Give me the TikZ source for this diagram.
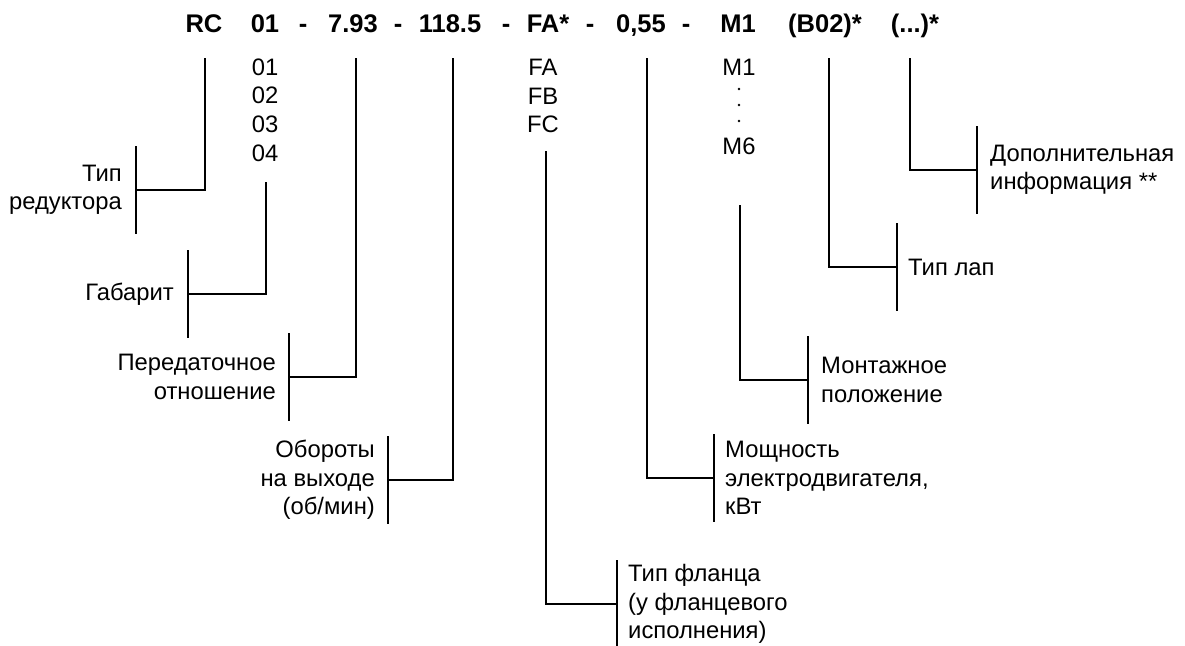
\documentclass[tikz,border=0pt]{standalone}
\usepackage{fontspec}
\setmainfont{Liberation Sans}
\usetikzlibrary{positioning}

\tikzset{
	code/.style={font=\fontsize{25.5}{30}\selectfont\bfseries, inner sep=0pt, anchor=base},
	lst/.style={font=\fontsize{23.8}{28.7}\selectfont, inner sep=0pt, align=center},
	lblr/.style={font=\fontsize{23.8}{28.5}\selectfont, inner sep=0pt, align=right, anchor=east},
	lbll/.style={font=\fontsize{23.8}{28.5}\selectfont, inner sep=0pt, align=left, anchor=west},
	wire/.style={line width=2.6pt},
}

\begin{document}
\begin{tikzpicture}[x=1pt,y=-1pt]
			\useasboundingbox (0,0) rectangle (1185,645);
			
			% code line
			\node[code] (hRC) at (204,32) {RC};
			\node[code] (h01) at (265,32) {01};
			\node[code] (d1) at (303,32) {-};
			\node[code] (h793) at (353,32) {7.93};
			\node[code] (d2) at (398,32) {-};
			\node[code] (h118) at (450,32) {118.5};
			\node[code] (d3) at (506,32) {-};
			\node[code] (hFA) at (548,32) {FA*};
			\node[code] (d4) at (590,32) {-};
			\node[code] (h055) at (641,32) {0,55};
			\node[code] (d5) at (686,32) {-};
			\node[code] (hM) at (738,32) {M1};
			\node[code] (hB) at (825,32) {(B02)*};
			\node[code] (hX) at (915,32) {(...)*};
			
			% variants
			\node[lst] (l01) at (265,110) {01\\02\\03\\04};
			\node[lst] (lFA) at (543,96) {FA\\FB\\FC};
			\node[lst] (lM1) at (739,67) {M1};
			\node[lst] (lM6) at (739,146) {M6};
			\fill (739,89) circle (1.4pt) (739,105) circle (1.4pt) (739,121) circle (1.4pt);
			
			% line tops
			\coordinate (tRC) at (205,58);
			\coordinate (t01) at (266,182);
			\coordinate (t793) at (356,58);
			\coordinate (t118) at (453,58);
			\coordinate (tFA) at (546,151);
			\coordinate (t055) at (647,58);
			\coordinate (tM) at (740,205);
			\coordinate (tB) at (829,58);
			\coordinate (tX) at (910,58);
			
			% brackets
			\coordinate (bRC) at (136,190);
			\coordinate (b01) at (188,294);
			\coordinate (b793) at (289,377);
			\coordinate (b118) at (388,480);
			\coordinate (bFA) at (617,604);
			\coordinate (b055) at (714,478);
			\coordinate (bM) at (808,380);
			\coordinate (bB) at (897,267);
			\coordinate (bX) at (977,170);
			
			\draw[wire] (tRC) |- (bRC);
			\draw[wire] (t01) |- (b01);
			\draw[wire] (t793) |- (b793);
			\draw[wire] (t118) |- (b118);
			\draw[wire] (tFA) |- (bFA);
			\draw[wire] (t055) |- (b055);
			\draw[wire] (tM) |- (bM);
			\draw[wire] (tB) |- (bB);
			\draw[wire] (tX) |- (bX);
			
			\draw[wire] ([yshift=44pt]bRC) -- ([yshift=-44pt]bRC);
			\draw[wire] ([yshift=44pt]b01) -- ([yshift=-44pt]b01);
			\draw[wire] ([yshift=44pt]b793) -- ([yshift=-44pt]b793);
			\draw[wire] ([yshift=44pt]b118) -- ([yshift=-44pt]b118);
			\draw[wire] ([yshift=44pt]bFA) -- ([yshift=-44pt]bFA);
			\draw[wire] ([yshift=44pt]b055) -- ([yshift=-44pt]b055);
			\draw[wire] ([yshift=44pt]bM) -- ([yshift=-44pt]bM);
			\draw[wire] ([yshift=44pt]bB) -- ([yshift=-44pt]bB);
			\draw[wire] ([yshift=44pt]bX) -- ([yshift=-44pt]bX);
			
			% labels
			\node[lblr] (nRC) at ([xshift=-14pt]bRC) {Тип\\редуктора};
			\node[lblr] (n01) at ([xshift=-14pt]b01) {Габарит};
			\node[lblr] (n793) at ([xshift=-13pt]b793) {Передаточное\\отношение};
			\node[lblr] (n118) at ([xshift=-13pt]b118) {Обороты\\на выходе\\(об/мин)};
			\node[lbll] (nFA) at ([xshift=11pt]bFA) {Тип фланца\\(у фланцевого\\исполнения)};
			\node[lbll] (n055) at ([xshift=11pt]b055) {Мощность\\электродвигателя,\\кВт};
			\node[lbll] (nM) at ([xshift=13pt]bM) {Монтажное\\положение};
			\node[lbll] (nB) at ([xshift=11pt]bB) {Тип лап};
			\node[lbll] (nX) at ([xshift=13pt]bX) {Дополнительная\\информация **};
		\end{tikzpicture}
\end{document}
